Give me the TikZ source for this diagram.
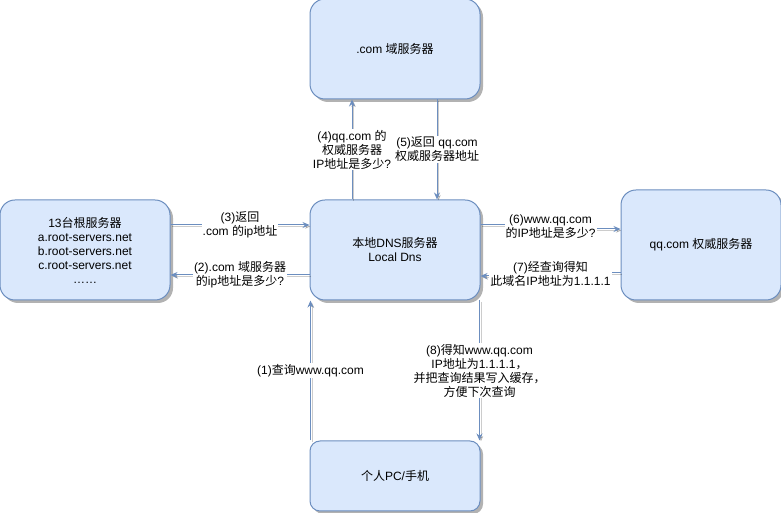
\documentclass[tikz,border=0pt]{standalone}
\usepackage{fontspec}
\setmainfont{Liberation Sans}
\newfontfamily\zhfont{Noto Sans CJK SC}
\usetikzlibrary{arrows.meta, positioning, shadows}

% Chinese characters switch to the CJK font by themselves
\newXeTeXintercharclass\zhclass
\newcount\zhcode
\def\setzhrange#1#2{\zhcode=#1 \loop\XeTeXcharclass\zhcode=\zhclass
  \advance\zhcode by 1 \ifnum\zhcode<#2 \repeat}
\setzhrange{"4E00}{"A000}
\setzhrange{"3000}{"3040}
\setzhrange{"FF00}{"FFF0}
\XeTeXinterchartoks 0 \zhclass = {\zhfont}
\XeTeXinterchartoks 4095 \zhclass = {\zhfont}
\XeTeXinterchartoks \zhclass 0 = {\rmfamily}
\XeTeXinterchartoks \zhclass 4095 = {\rmfamily}
\XeTeXinterchartokenstate=1

\definecolor{dnsblue}{HTML}{6C8EBF}
\definecolor{dnsfill}{HTML}{DAE8FC}
\tikzset{
    % Server box
    dnsbox/.style={
        rectangle,
        rounded corners=15pt,
        draw=dnsblue,
        line width=1pt,
        fill=dnsfill,
        text=black,
        font=\fontsize{12}{14}\selectfont,
        minimum width=170pt,
        minimum height=100pt,
        align=center,
        inner sep=2pt,
        drop shadow={shadow xshift=3pt, shadow yshift=-3pt, opacity=0.3, fill=black}
    },
    % Edge label
    edgelabel/.style={
        fill=white,
        text=black,
        font=\fontsize{12}{14}\selectfont,
        align=center,
        inner sep=1pt
    },
    % Arrow style
    dnsarrow/.style={
        -{Stealth[length=7pt, width=6pt]},
        line width=1pt,
        color=dnsblue,
        preaction={draw=black, opacity=0.2, transform canvas={shift={(1.5pt,-1.5pt)}}}
    }
}

\begin{document}
\begin{tikzpicture}[x=1pt, y=1pt]

    \useasboundingbox (0,0) rectangle (781,513);

    % Servers
    \node[dnsbox] (local) at (395,263) {本地DNS服务器\\Local Dns};
    \node[dnsbox, above=100pt of local] (com) {.com 域服务器};
    \node[dnsbox, below=140pt of local, minimum height=70pt, rounded corners=10pt] (pc) {个人PC/手机};
    \node[dnsbox, left=139pt of local] (root) {13台根服务器\\a.root-servers.net\\b.root-servers.net\\c.root-servers.net\\……};
    \node[dnsbox, right=140pt of local, yshift=5pt, minimum width=160pt, minimum height=110pt] (qq) {qq.com 权威服务器};

    % Client and local DNS
    \draw[dnsarrow] ([xshift=1pt]pc.north west) -- node[edgelabel] {(1)查询www.qq.com} ([xshift=1pt]local.south west);
    \draw[dnsarrow] ([xshift=-1pt]local.south east) -- node[edgelabel] {(8)得知www.qq.com\\IP地址为1.1.1.1，\\并把查询结果写入缓存，\\方便下次查询} ([xshift=-1pt]pc.north east);

    % Root servers
    \draw[dnsarrow] ([yshift=-25pt]local.west) -- node[edgelabel] {(2).com 域服务器\\的ip地址是多少?} ([yshift=-25pt]root.east);
    \draw[dnsarrow] ([yshift=25pt]root.east) -- node[edgelabel] {(3)返回\\.com 的ip地址} ([yshift=25pt]local.west);

    % .com servers
    \draw[dnsarrow] ([xshift=-43pt]local.north) -- node[edgelabel] {(4)qq.com 的\\权威服务器\\IP地址是多少?} ([xshift=-43pt]local.north |- com.south);
    \draw[dnsarrow] ([xshift=42pt]com.south) -- node[edgelabel] {(5)返回 qq.com\\权威服务器地址} ([xshift=42pt]com.south |- local.north);

    % qq.com servers
    \draw[dnsarrow] ([yshift=25pt]local.east) -- ++(70,0) node[edgelabel, yshift=-2pt] {(6)www.qq.com\\的IP地址是多少?} |- ([yshift=16pt]qq.west);
    \draw[dnsarrow] ([yshift=-28pt]qq.west) -- ++(-70,0) node[edgelabel, yshift=-1pt] {(7)经查询得知\\此域名IP地址为1.1.1.1} |- ([yshift=-26pt]local.east);

\end{tikzpicture}
\end{document}
